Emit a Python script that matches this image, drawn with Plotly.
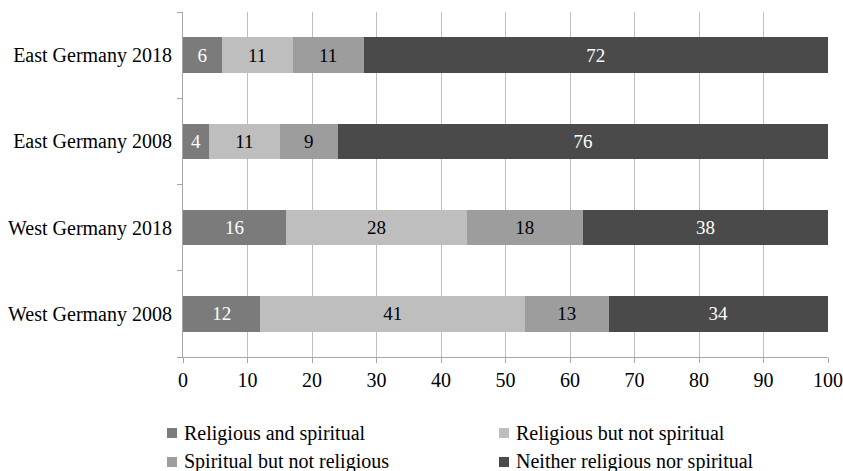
import plotly.graph_objects as go

# Survey groups (bottom to top on the category axis)
groups = ["West Germany 2008", "West Germany 2018", "East Germany 2008", "East Germany 2018"]

# Shares in percent for each self-description
religious_and_spiritual = [12, 16, 4, 6]
religious_not_spiritual = [41, 28, 11, 11]
spiritual_not_religious = [13, 18, 9, 11]
neither = [34, 38, 76, 72]

series_names = [
    "Religious and spiritual",
    "Religious but not spiritual",
    "Spiritual but not religious",
    "Neither religious nor spiritual",
]
series_values = [religious_and_spiritual, religious_not_spiritual, spiritual_not_religious, neither]
fill_colors = ["#7b7b7b", "#bebebe", "#9d9d9d", "#4a4a4a"]
label_colors = ["white", "black", "black", "white"]

FONT = "Liberation Serif, Times New Roman, serif"

fig = go.Figure()
for name, vals, fc, lc in zip(series_names, series_values, fill_colors, label_colors):
    fig.add_trace(go.Bar(
        y=groups,
        x=vals,
        name=name,
        orientation="h",
        marker=dict(color=fc, line=dict(width=0)),
        text=[str(v) for v in vals],
        textposition="inside",
        insidetextanchor="middle",
        textangle=0,
        constraintext="none",
        textfont=dict(family=FONT, size=19, color=lc),
        hoverinfo="skip",
        showlegend=False,
    ))

# Two-column key beneath the plot: a small square swatch followed by the series name
key_text_x = [0.0, 0.5147]
key_row_y = [-0.2203, -0.3043]
for i, (name, fc) in enumerate(zip(series_names, fill_colors)):
    kx = key_text_x[i % 2]
    ky = key_row_y[i // 2]
    fig.add_shape(
        type="rect",
        xref="paper", yref="paper",
        xsizemode="pixel", ysizemode="pixel",
        xanchor=kx, yanchor=ky,
        x0=-16, x1=-6, y0=-5, y1=5,
        fillcolor=fc,
        line=dict(width=0),
    )
    fig.add_annotation(
        xref="paper", yref="paper",
        x=kx, y=ky,
        xanchor="left", yanchor="middle",
        showarrow=False,
        borderpad=0,
        text=name,
        font=dict(family=FONT, size=20, color="black"),
    )

fig.update_layout(
    barmode="stack",
    bargap=0.59,
    width=843,
    height=471,
    margin=dict(l=183, r=15, t=12, b=114),
    paper_bgcolor="white",
    plot_bgcolor="white",
    font=dict(family=FONT, size=20, color="black"),
    showlegend=False,
)

fig.update_xaxes(
    range=[0, 100],
    dtick=10,
    tick0=0,
    showgrid=True,
    gridcolor="#bfbfbf",
    gridwidth=1,
    showline=True,
    linecolor="#a6a6a6",
    linewidth=1,
    ticks="outside",
    ticklen=5,
    tickcolor="#a6a6a6",
    tickfont=dict(family=FONT, size=20, color="black"),
    zeroline=False,
    automargin=False,
    fixedrange=True,
)

fig.update_yaxes(
    type="category",
    categoryorder="array",
    categoryarray=groups,
    showgrid=False,
    showline=True,
    linecolor="#a6a6a6",
    linewidth=1,
    ticks="outside",
    tickson="boundaries",
    ticklen=5,
    tickcolor="#a6a6a6",
    tickfont=dict(family=FONT, size=20, color="black"),
    ticklabelstandoff=6,
    automargin=False,
    fixedrange=True,
)

fig.write_html("out.html")
